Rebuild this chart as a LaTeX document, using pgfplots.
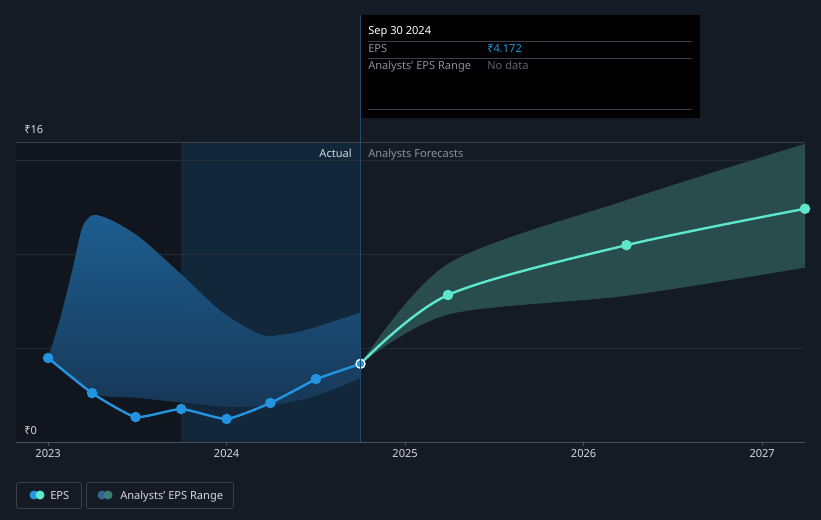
\documentclass[border=0pt]{standalone}
\usepackage{pgfplots}
\pgfplotsset{compat=1.18}
\usepgfplotslibrary{fillbetween}
\usepackage{fontspec}
\setmainfont{Noto Sans}
\definecolor{bgc}{HTML}{151B25}
\definecolor{darkreg}{HTML}{11151D}
\definecolor{hilite}{HTML}{122739}
\definecolor{gridc}{HTML}{262C36}
\definecolor{topline}{HTML}{3A404A}
\definecolor{axisc}{HTML}{4A505A}
\definecolor{labc}{HTML}{D6D8DC}
\definecolor{greyc}{HTML}{8A8F98}
\definecolor{epsblue}{HTML}{2394DF}
\definecolor{epsmint}{HTML}{5EE6CF}
\definecolor{pasttop}{HTML}{2068A0}
\definecolor{pastbot}{HTML}{1A3E60}
\definecolor{pastfill}{HTML}{1C5482}
\definecolor{forefill}{HTML}{2B4F50}
\definecolor{vline}{HTML}{1F4B70}
\pagecolor{bgc}

\begin{document}
\begin{tikzpicture}
\newcommand{\fs}{\fontsize{8.3}{10}\selectfont}
% page frame, pixel units
\begin{scope}[x=0.75pt,y=-0.75pt]
\path (0,0) rectangle (821,520);
\end{scope}

\begin{axis}[
    set layers,
    at={(12pt,-331.5pt)}, anchor=south west,
    scale only axis,
    width=591.75pt, height=225pt,
    xmin=2022.82, xmax=2027.24,
    ymin=0, ymax=16,
    axis line style={draw=none},
    ytick={5,10,15}, yticklabels={},
    y tick style={draw=none},
    ymajorgrids,
    major grid style={color=gridc, line width=0.6pt},
    xtick={2023,2024,2025,2026,2027},
    xticklabels={2023,2024,2025,2026,2027},
    xtick pos=left,
    tick align=outside,
    major tick length=3pt,
    x tick style={draw=axisc, line width=0.6pt},
    xticklabel style={font=\fs, text=labc, yshift=1pt},
]
\begin{pgfonlayer}{axis background}
\fill[darkreg] (axis cs:2022.82,0) rectangle (axis cs:2023.745,16);
\fill[hilite] (axis cs:2023.745,0) rectangle (axis cs:2024.75,16);
\end{pgfonlayer}
\draw[topline, line width=0.6pt] (axis cs:2022.82,16) -- (axis cs:2027.24,16);
\draw[axisc, line width=0.7pt] (axis cs:2022.82,0) -- (axis cs:2027.24,0);

% past analysts' range
\addplot[name path=pu, draw=none, smooth, tension=0.5] coordinates {
    (2023.0,4.48) (2023.07,6.7) (2023.14,9.35) (2023.19,11.4) (2023.25,12.1)
    (2023.35,11.85) (2023.515,10.9) (2023.74,9.0) (2023.98,6.9)
    (2024.19,5.75) (2024.3,5.72) (2024.45,6.0) (2024.75,6.9)
};
\addplot[name path=pl, draw=none, smooth, tension=0.5] coordinates {
    (2023.0,4.48) (2023.25,2.6) (2023.5,2.35) (2023.75,2.1)
    (2024.0,1.87) (2024.25,1.95) (2024.5,2.45) (2024.75,3.4)
};
\addplot[top color=pasttop, bottom color=pastbot, fill opacity=0.9, draw=none]
    fill between[of=pu and pl];

% forecast range
\addplot[name path=fu, draw=none, smooth, tension=0.5] coordinates {
    (2024.75,4.172) (2025.24,9.5) (2026.24,12.9) (2027.24,15.9)
};
\addplot[name path=fl, draw=none, smooth, tension=0.5] coordinates {
    (2024.75,4.172) (2025.24,6.8) (2026.24,7.8) (2027.24,9.3)
};
\addplot[fill=forefill, fill opacity=0.95, draw=none] fill between[of=fu and fl];

% EPS actual
\addplot[epsblue, line width=1.8pt, smooth, tension=0.3, mark=*, mark size=3pt,
    mark options={fill=epsblue, draw=epsblue}] coordinates {
    (2023.0,4.48) (2023.246,2.61) (2023.49,1.33) (2023.745,1.76)
    (2024.0,1.23) (2024.245,2.08) (2024.5,3.36)
};
\addplot[epsblue, line width=1.8pt] coordinates {
    (2024.5,3.36) (2024.75,4.172)
};
% EPS forecast
\addplot[epsmint, line width=1.8pt, smooth, tension=0.5, mark=*, mark size=3pt,
    mark options={fill=epsmint, draw=epsmint}] coordinates {
    (2024.75,4.172) (2025.24,7.84) (2026.24,10.5) (2027.24,12.44)
};
\addplot[only marks, mark=*, mark size=3.3pt,
    mark options={fill=epsblue, draw=white, line width=0.8pt}] coordinates {
    (2024.75,4.172)
};
\end{axis}

% overlays, pixel units
\begin{scope}[x=0.75pt,y=-0.75pt]
\draw[vline, line width=0.7pt] (360,15) -- (360,442);
\node[anchor=base west, text=labc, font=\fs, inner sep=0] at (24,134) {₹16};
\node[anchor=base west, text=labc, font=\fs, inner sep=0] at (24,434) {₹0};
\node[anchor=base east, text=labc, font=\fs, inner sep=0] at (352,158) {Actual};
\node[anchor=base west, text=greyc, font=\fs, inner sep=0] at (368,158) {Analysts Forecasts};

% tooltip
\fill[black] (361,15) rectangle (700,118);
\node[anchor=base west, text=white, font=\fs, inner sep=0] at (368,35) {Sep 30 2024};
\draw[topline, line width=0.6pt] (368,41.5) -- (692,41.5);
\draw[topline, line width=0.6pt] (368,58) -- (692,58);
\draw[topline, line width=0.6pt] (368,109) -- (692,109);
\node[anchor=base west, text=greyc, font=\fs, inner sep=0] at (368,53) {EPS};
\node[anchor=base west, text=epsblue, font=\fs, inner sep=0] at (487,53) {₹4.172};
\node[anchor=base west, text=greyc, font=\fs, inner sep=0] at (368,70) {Analysts' EPS Range};
\node[anchor=base west, text=greyc!70!black, font=\fs, inner sep=0] at (487,70) {No data};

% legend
\draw[topline, rounded corners=1.5pt, line width=0.6pt] (16.5,482.5) rectangle (81.5,508.5);
\fill[epsblue] (34,495) circle (4.5);
\fill[epsmint] (40,495) circle (4.5);
\node[anchor=base west, text=labc, font=\fs, inner sep=0] at (50,499) {EPS};
\draw[topline, rounded corners=1.5pt, line width=0.6pt] (86.5,482.5) rectangle (233.5,508.5);
\fill[pastfill!90!white] (102,495) circle (4.5);
\fill[forefill!70!epsmint] (108,495) circle (4.5);
\node[anchor=base west, text=labc, font=\fs, inner sep=0] at (120,499) {Analysts' EPS Range};
\end{scope}
\end{tikzpicture}
\end{document}
